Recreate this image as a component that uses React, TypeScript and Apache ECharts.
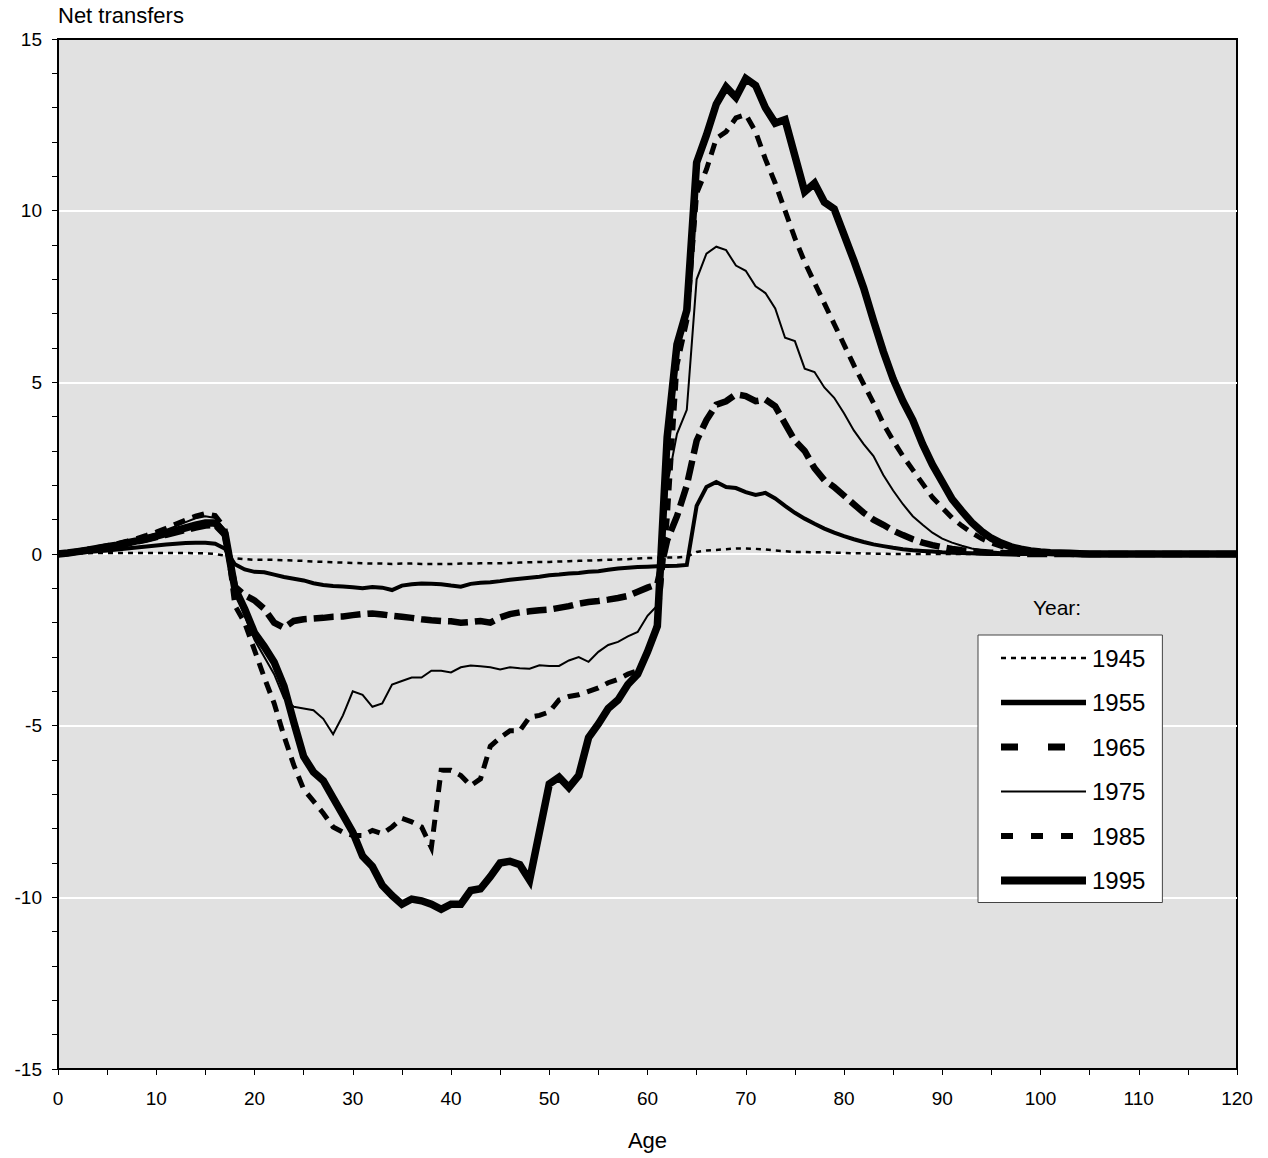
import React, { useEffect, useRef } from 'react';
import * as echarts from 'echarts';

const FONT = "'Liberation Sans', Arial, Helvetica, sans-serif";

// Ages 0..120 (x positions of the data points)
const ages: number[] = Array.from({ length: 121 }, (_, i) => i);

const years = ['1945', '1955', '1965', '1975', '1985', '1995'];

const v1945 = [
  0.02, 0.02, 0.02, 0.02, 0.03, 0.03, 0.03, 0.03, 0.03, 0.03,
  0.03, 0.03, 0.03, 0.03, 0.02, 0.02, 0.0, -0.05, -0.12, -0.15,
  -0.17, -0.17, -0.17, -0.18, -0.19, -0.2, -0.22, -0.23, -0.24, -0.25,
  -0.26, -0.27, -0.28, -0.28, -0.29, -0.28, -0.28, -0.29, -0.29, -0.29,
  -0.29, -0.28, -0.28, -0.27, -0.27, -0.27, -0.26, -0.25, -0.24, -0.23,
  -0.23, -0.22, -0.21, -0.2, -0.19, -0.18, -0.17, -0.16, -0.15, -0.13,
  -0.12, -0.11, -0.1, -0.1, -0.08, 0.06, 0.1, 0.12, 0.14, 0.16,
  0.16, 0.15, 0.13, 0.1, 0.08, 0.06, 0.06, 0.05, 0.05, 0.04,
  0.03, 0.02, 0.02, 0.01, 0.01, 0, 0, 0, 0, 0,
  0, 0, 0, 0, 0, 0, 0, 0, 0, 0,
  0, 0, 0, 0, 0, 0, 0, 0, 0, 0,
  0, 0, 0, 0, 0, 0, 0, 0, 0, 0,
  0,
];

const v1955 = [
  0, 0.02, 0.04, 0.06, 0.08, 0.1, 0.13, 0.16, 0.19, 0.22,
  0.25, 0.28, 0.3, 0.32, 0.33, 0.33, 0.3, 0.15, -0.3, -0.45,
  -0.52, -0.53, -0.6, -0.67, -0.72, -0.77, -0.85, -0.9, -0.93, -0.95,
  -0.97, -1.0, -0.96, -0.98, -1.05, -0.92, -0.88, -0.86, -0.87, -0.88,
  -0.92, -0.95, -0.87, -0.84, -0.82, -0.79, -0.75, -0.72, -0.69, -0.66,
  -0.62, -0.6, -0.57, -0.55, -0.52, -0.5, -0.46, -0.42, -0.4, -0.38,
  -0.37, -0.36, -0.35, -0.34, -0.32, 1.4, 1.95, 2.1, 1.95, 1.92,
  1.8, 1.72, 1.78, 1.62, 1.4, 1.2, 1.03, 0.88, 0.74, 0.62,
  0.52, 0.43, 0.35, 0.28, 0.23, 0.18, 0.14, 0.11, 0.09, 0.07,
  0.05, 0.04, 0.03, 0.02, 0.01, 0, 0, 0, 0, 0,
  0, 0, 0, 0, 0, 0, 0, 0, 0, 0,
  0, 0, 0, 0, 0, 0, 0, 0, 0, 0,
  0,
];

const v1965 = [
  0, 0.03, 0.07, 0.11, 0.15, 0.2, 0.25, 0.3, 0.36, 0.42,
  0.49, 0.56, 0.63, 0.7, 0.77, 0.83, 0.85, 0.55, -0.95, -1.2,
  -1.35, -1.6, -2.0, -2.15, -1.95, -1.9, -1.88, -1.86, -1.83, -1.82,
  -1.78, -1.75, -1.73, -1.76, -1.8, -1.83, -1.86, -1.9, -1.93, -1.95,
  -1.96, -2.0, -1.98, -1.95, -2.0, -1.85, -1.75, -1.7, -1.67, -1.64,
  -1.62, -1.57, -1.52, -1.45, -1.4, -1.37, -1.33, -1.28, -1.22, -1.1,
  -0.98, -0.88, 0.4, 1.1, 2.0, 3.3, 3.9, 4.35, 4.45, 4.65,
  4.6, 4.45, 4.5, 4.3, 3.8, 3.3, 3.0, 2.5, 2.15, 1.95,
  1.7, 1.45, 1.2, 1.0, 0.85, 0.68, 0.55, 0.43, 0.33, 0.26,
  0.2, 0.15, 0.11, 0.08, 0.06, 0.04, 0.03, 0.02, 0.01, 0,
  0, 0, 0, 0, 0, 0, 0, 0, 0, 0,
  0, 0, 0, 0, 0, 0, 0, 0, 0, 0,
  0,
];

const v1975 = [
  0, 0.04, 0.09, 0.14, 0.19, 0.24, 0.3, 0.36, 0.43, 0.51,
  0.6, 0.7, 0.81, 0.93, 1.04, 1.1, 1.05, 0.7, -1.1, -1.8,
  -2.5, -3.0, -3.5, -4.2, -4.45, -4.5, -4.55, -4.8, -5.25, -4.7,
  -4.0, -4.1, -4.45, -4.35, -3.8, -3.7, -3.6, -3.6, -3.4, -3.4,
  -3.45, -3.3, -3.25, -3.27, -3.3, -3.36, -3.3, -3.33, -3.34, -3.24,
  -3.26, -3.26, -3.1, -3.0, -3.14, -2.85, -2.65, -2.56, -2.4, -2.27,
  -1.8, -1.5, 2.0, 3.5, 4.2, 8.0, 8.75, 8.95, 8.85, 8.4,
  8.25, 7.8, 7.6, 7.15, 6.3, 6.2, 5.4, 5.3, 4.85, 4.55,
  4.1, 3.6, 3.2, 2.85, 2.3, 1.85, 1.45, 1.1, 0.85, 0.62,
  0.45, 0.33, 0.24, 0.16, 0.11, 0.07, 0.05, 0.03, 0.02, 0.01,
  0, 0, 0, 0, 0, 0, 0, 0, 0, 0,
  0, 0, 0, 0, 0, 0, 0, 0, 0, 0,
  0,
];

const v1985 = [
  0, 0.04, 0.09, 0.14, 0.19, 0.24, 0.3, 0.37, 0.45, 0.54,
  0.64, 0.75, 0.87, 0.99, 1.1, 1.18, 1.12, 0.75, -1.5, -2.0,
  -2.8, -3.6, -4.35, -5.3, -6.15, -6.85, -7.2, -7.55, -7.95, -8.1,
  -8.2, -8.2, -8.05, -8.15, -7.95, -7.7, -7.8, -7.95, -8.55, -6.3,
  -6.3, -6.45, -6.75, -6.55, -5.6, -5.35, -5.15, -5.15, -4.75, -4.7,
  -4.6, -4.25, -4.15, -4.1, -4.0, -3.9, -3.75, -3.65, -3.5, -3.4,
  -2.9, -2.0, 1.0, 5.5, 6.8, 10.5, 11.2, 12.1, 12.3, 12.7,
  12.8, 12.3, 11.5, 10.8, 10.0, 9.2, 8.5, 7.9, 7.3, 6.7,
  6.1, 5.5, 4.95, 4.4, 3.8, 3.3, 2.85, 2.45, 2.05, 1.65,
  1.35, 1.05, 0.82, 0.62, 0.45, 0.32, 0.22, 0.15, 0.1, 0.06,
  0.04, 0.02, 0.01, 0, 0, 0, 0, 0, 0, 0,
  0, 0, 0, 0, 0, 0, 0, 0, 0, 0,
  0,
];

const v1995 = [
  0, 0.03, 0.07, 0.11, 0.16, 0.21, 0.26, 0.32, 0.38, 0.45,
  0.52, 0.6, 0.68, 0.76, 0.84, 0.9, 0.9, 0.6, -1.0, -1.6,
  -2.3, -2.7, -3.15, -3.85, -4.9, -5.9, -6.35, -6.6, -7.1, -7.6,
  -8.1, -8.8, -9.1, -9.65, -9.95, -10.2, -10.05, -10.1, -10.2, -10.35,
  -10.2, -10.2, -9.8, -9.75, -9.4, -9.0, -8.95, -9.05, -9.5, -8.1,
  -6.7, -6.5, -6.8, -6.45, -5.35, -4.95, -4.5, -4.25, -3.8, -3.5,
  -2.85, -2.1, 3.4, 6.1, 7.1, 11.4, 12.2, 13.1, 13.6, 13.3,
  13.85, 13.65, 13.0, 12.55, 12.65, 11.6, 10.55, 10.8, 10.25, 10.05,
  9.3, 8.55, 7.75, 6.8, 5.9, 5.1, 4.45, 3.9, 3.2, 2.6,
  2.1, 1.6, 1.25, 0.92, 0.66, 0.46, 0.32, 0.21, 0.14, 0.09,
  0.06, 0.04, 0.03, 0.02, 0.01, 0, 0, 0, 0, 0,
  0, 0, 0, 0, 0, 0, 0, 0, 0, 0,
  0,
];

const seriesValues = [v1945, v1955, v1965, v1975, v1985, v1995];

const chartLineStyles: any[] = [
  { width: 2.5, type: [5, 5] },
  { width: 4, type: 'solid' },
  { width: 6.5, type: [20, 7] },
  { width: 2, type: 'solid' },
  { width: 5, type: [12, 8] },
  { width: 7.5, type: 'solid' },
];
const legendLineStyles: any[] = [
  { width: 2.5, type: [5, 5] },
  { width: 5.5, type: 'solid' },
  { width: 7, type: [17, 30] },
  { width: 2, type: 'solid' },
  { width: 6, type: [12, 18] },
  { width: 8, type: 'solid' },
];

export default function App() {
  const ref = useRef<HTMLDivElement>(null);

  useEffect(() => {
    if (!ref.current) return;
    const chart = echarts.init(ref.current, undefined, { renderer: 'svg' });

    const series = years.map((yr, i) => ({
      name: yr,
      type: 'line',
      data: ages.map((a, j) => [a, seriesValues[i][j]]),
      symbol: 'none',
      showSymbol: false,
      smooth: false,
      lineStyle: {
        color: '#000',
        width: chartLineStyles[i].width,
        type: chartLineStyles[i].type,
        cap: 'butt',
        join: 'miter',
      },
      itemStyle: { color: '#000' },
      z: 3,
    }));

    chart.setOption({
      animation: false,
      textStyle: { fontFamily: FONT },
      grid: {
        left: 58,
        top: 39,
        right: 31,
        bottom: 89,
        outerBoundsMode: 'none',
        containLabel: false,
        show: true,
        backgroundColor: '#e1e1e1',
        borderColor: '#000',
        borderWidth: 2,
      },
      xAxis: {
        type: 'value',
        min: 0,
        max: 120,
        interval: 10,
        name: 'Age',
        nameLocation: 'middle',
        nameGap: 60,
        nameTextStyle: { fontSize: 22, color: '#000', fontFamily: FONT },
        axisLine: { show: true, onZero: false, lineStyle: { color: '#000', width: 2 } },
        axisTick: { show: true, inside: false, length: 6, lineStyle: { color: '#000', width: 1 } },
        minorTick: { show: true, splitNumber: 2, length: 6, lineStyle: { color: '#000', width: 1 } },
        axisLabel: { fontSize: 19, color: '#000', margin: 20, fontFamily: FONT },
        splitLine: { show: false },
      },
      yAxis: {
        type: 'value',
        min: -15,
        max: 15,
        interval: 5,
        axisLine: { show: true, onZero: false, lineStyle: { color: '#000', width: 2 } },
        axisTick: { show: true, inside: false, length: 6, lineStyle: { color: '#000', width: 1 } },
        minorTick: { show: true, splitNumber: 5, length: 6, lineStyle: { color: '#000', width: 1 } },
        axisLabel: { fontSize: 19, color: '#000', margin: 16, fontFamily: FONT },
        splitLine: {
          show: true,
          showMinLine: false,
          showMaxLine: false,
          lineStyle: { color: '#ffffff', width: 2 },
        },
      },
      legend: {
        orient: 'vertical',
        left: 978,
        top: 635,
        padding: [11, 17, 10, 19],
        itemGap: 20.5,
        itemWidth: 85,
        itemHeight: 14,
        backgroundColor: '#ffffff',
        borderColor: '#444',
        borderWidth: 1,
        borderRadius: 0,
        selectedMode: false,
        textStyle: { fontSize: 24, color: '#000', fontFamily: FONT, padding: [0, 0, 0, 1] },
        data: years.map((yr, i) => ({
          name: yr,
          itemStyle: { color: 'rgba(0,0,0,0)', borderWidth: 0, opacity: 0 },
          lineStyle: {
            color: '#000',
            width: legendLineStyles[i].width,
            type: legendLineStyles[i].type,
            cap: 'butt',
            opacity: 1,
          },
        })),
      },
      graphic: [
        {
          type: 'text',
          left: 58,
          top: 4,
          style: { text: 'Net transfers', fontSize: 22, fill: '#000', fontFamily: FONT },
        },
        {
          type: 'text',
          x: 1057,
          y: 607,
          style: {
            text: 'Year:',
            fontSize: 21,
            fill: '#000',
            fontFamily: FONT,
            align: 'center',
            verticalAlign: 'middle',
          },
        },
      ],
      series,
    });

    return () => chart.dispose();
  }, []);

  return (
    <div
      ref={ref}
      style={{ position: 'fixed', left: 0, top: 0, width: 1268, height: 1158, background: '#fff' }}
    />
  );
}
